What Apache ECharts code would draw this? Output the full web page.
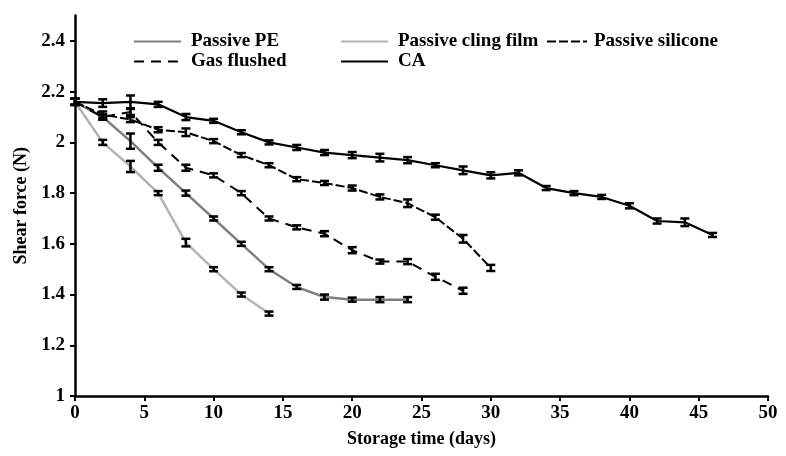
<!DOCTYPE html>
<html><head><meta charset="utf-8">
<script src="https://cdn.jsdelivr.net/npm/echarts@6/dist/echarts.min.js"></script>
<style>html,body{margin:0;padding:0;background:#fff}#c{width:786px;height:456px}</style>
</head><body><div id="c"></div>
<script>
// ---- data ----
var seriesNames = ['Passive PE','Passive cling film','Passive silicone','Gas flushed','CA'];
var daysPE = [0,2,4,6,8,10,12,14,16,18,20,22,24];
var valPE  = [2.16,2.10,2.005,1.90,1.80,1.70,1.60,1.50,1.43,1.39,1.38,1.38,1.38];
var errPE  = [0.012,0.01,0.03,0.012,0.01,0.008,0.008,0.008,0.008,0.01,0.008,0.01,0.01];
var daysCling = [0,2,4,6,8,10,12,14];
var valCling  = [2.16,2.00,1.905,1.80,1.605,1.50,1.40,1.325];
var errCling  = [0.012,0.01,0.022,0.008,0.015,0.008,0.008,0.008];
var daysSil = [0,2,4,6,8,10,12,14,16,18,20,22,24,26,28,30];
var valSil  = [2.16,2.11,2.09,2.05,2.04,2.005,1.95,1.91,1.855,1.84,1.82,1.785,1.76,1.705,1.62,1.505];
var errSil  = [0.012,0.012,0.01,0.01,0.015,0.008,0.008,0.008,0.008,0.008,0.01,0.01,0.015,0.01,0.015,0.012];
var daysGas = [0,2,4,6,8,10,12,14,16,18,20,22,24,26,28];
var valGas  = [2.16,2.10,2.12,2.00,1.90,1.87,1.80,1.70,1.665,1.64,1.575,1.53,1.53,1.47,1.415];
var errGas  = [0.012,0.01,0.012,0.01,0.012,0.008,0.008,0.008,0.008,0.01,0.012,0.008,0.01,0.012,0.012];
var daysCA = [0,2,4,6,8,10,12,14,16,18,20,22,24,26,28,30,32,34,36,38,40,42,44,46];
var valCA  = [2.16,2.155,2.16,2.15,2.10,2.085,2.04,2.00,1.98,1.96,1.95,1.94,1.93,1.91,1.89,1.87,1.88,1.82,1.80,1.785,1.75,1.69,1.685,1.635];
var errCA  = [0.012,0.015,0.025,0.01,0.012,0.008,0.008,0.008,0.01,0.01,0.012,0.015,0.012,0.008,0.015,0.012,0.01,0.008,0.008,0.008,0.01,0.01,0.015,0.008];
var xTicks = [0,5,10,15,20,25,30,35,40,45,50];
var yTicks = [1,1.2,1.4,1.6,1.8,2,2.2,2.4];

// ---- chart ----
var FONT = '"Liberation Serif", "Times New Roman", serif';
function pairs(d, v){ return d.map(function(x,i){ return [x, v[i]]; }); }
function triples(d, v, e){ return d.map(function(x,i){ return [x, v[i], e[i]]; }); }
var styles = [
  {color:'#7f7f7f', type:'solid', width:2.5},
  {color:'#b3b3b3', type:'solid', width:2.5},
  {color:'#000', type:[9,3], width:2},
  {color:'#000', type:[10,7], width:2},
  {color:'#000', type:'solid', width:2.2}
];
var sets = [
  [daysPE,valPE,errPE],[daysCling,valCling,errCling],[daysSil,valSil,errSil],
  [daysGas,valGas,errGas],[daysCA,valCA,errCA]
];
function errRender(params, api){
  var x = api.value(0), v = api.value(1), e = api.value(2);
  var hi = api.coord([x, v+e]), lo = api.coord([x, v-e]);
  var hw = 4.5;
  var st = {stroke:'#000', lineWidth:2.5};
  return {type:'group', children:[
    {type:'line', shape:{x1:hi[0],y1:hi[1],x2:lo[0],y2:lo[1]}, style:st},
    {type:'line', shape:{x1:hi[0]-hw,y1:hi[1],x2:hi[0]+hw,y2:hi[1]}, style:st},
    {type:'line', shape:{x1:lo[0]-hw,y1:lo[1],x2:lo[0]+hw,y2:lo[1]}, style:st}
  ]};
}
var series = [];
sets.forEach(function(s, i){
  series.push({name:seriesNames[i], type:'line', data:pairs(s[0],s[1]), symbol:'none',
    lineStyle:styles[i], itemStyle:{color:styles[i].color}, z:2, animation:false});
});
sets.forEach(function(s, i){
  series.push({type:'custom', data:triples(s[0],s[1],s[2]), renderItem:errRender, z:3,
    encode:{x:0,y:1}, animation:false, silent:true});
});
var legendPos = [
  {left:133, top:32, w:47, pad:5}, {left:340, top:32, w:47, pad:5}, {left:546, top:32, w:40, pad:2},
  {left:133, top:52, w:47, pad:5}, {left:340, top:52, w:47, pad:5}
];
var legends = legendPos.map(function(p, i){
  return {data:[seriesNames[i]], left:p.left, top:p.top, padding:0, itemWidth:p.w, itemHeight:16, itemGap:10,
    selectedMode:false, itemStyle:{opacity:0},
    textStyle:{fontFamily:FONT, fontSize:19, fontWeight:'bold', color:'#000', padding:[0,0,0,p.pad]}};
});
var chart = echarts.init(document.getElementById('c'), null, {renderer:'canvas'});
chart.setOption({
  animation:false,
  backgroundColor:'#fff',
  legend: legends,
  grid:{left:75, right:18, top:15.6, bottom:60, containLabel:false},
  xAxis:{type:'value', min:0, max:50, interval:5,
    name:'Storage time (days)', nameLocation:'middle', nameGap:34,
    nameTextStyle:{fontFamily:FONT, fontSize:18, fontWeight:'bold', color:'#000'},
    axisLine:{show:true, onZero:false, lineStyle:{color:'#000', width:2.5}},
    axisTick:{show:true, inside:false, length:5, lineStyle:{color:'#000', width:2}, customValues:xTicks},
    axisLabel:{fontFamily:FONT, fontSize:19, fontWeight:'bold', color:'#000', margin:8, customValues:xTicks},
    splitLine:{show:false}},
  yAxis:{type:'value', min:1, max:2.5, interval:0.2,
    name:'Shear force (N)', nameLocation:'middle', nameGap:45, nameRotate:90,
    nameTextStyle:{fontFamily:FONT, fontSize:18, fontWeight:'bold', color:'#000'},
    axisLine:{show:true, onZero:false, lineStyle:{color:'#000', width:2.5}},
    axisTick:{show:true, inside:false, length:5, lineStyle:{color:'#000', width:2}, customValues:yTicks},
    axisLabel:{fontFamily:FONT, fontSize:19, fontWeight:'bold', color:'#000', margin:10, customValues:yTicks,
      formatter:function(v){ return String(Math.round(v*10)/10); }},
    splitLine:{show:false}},
  series: series
});
</script></body></html>
